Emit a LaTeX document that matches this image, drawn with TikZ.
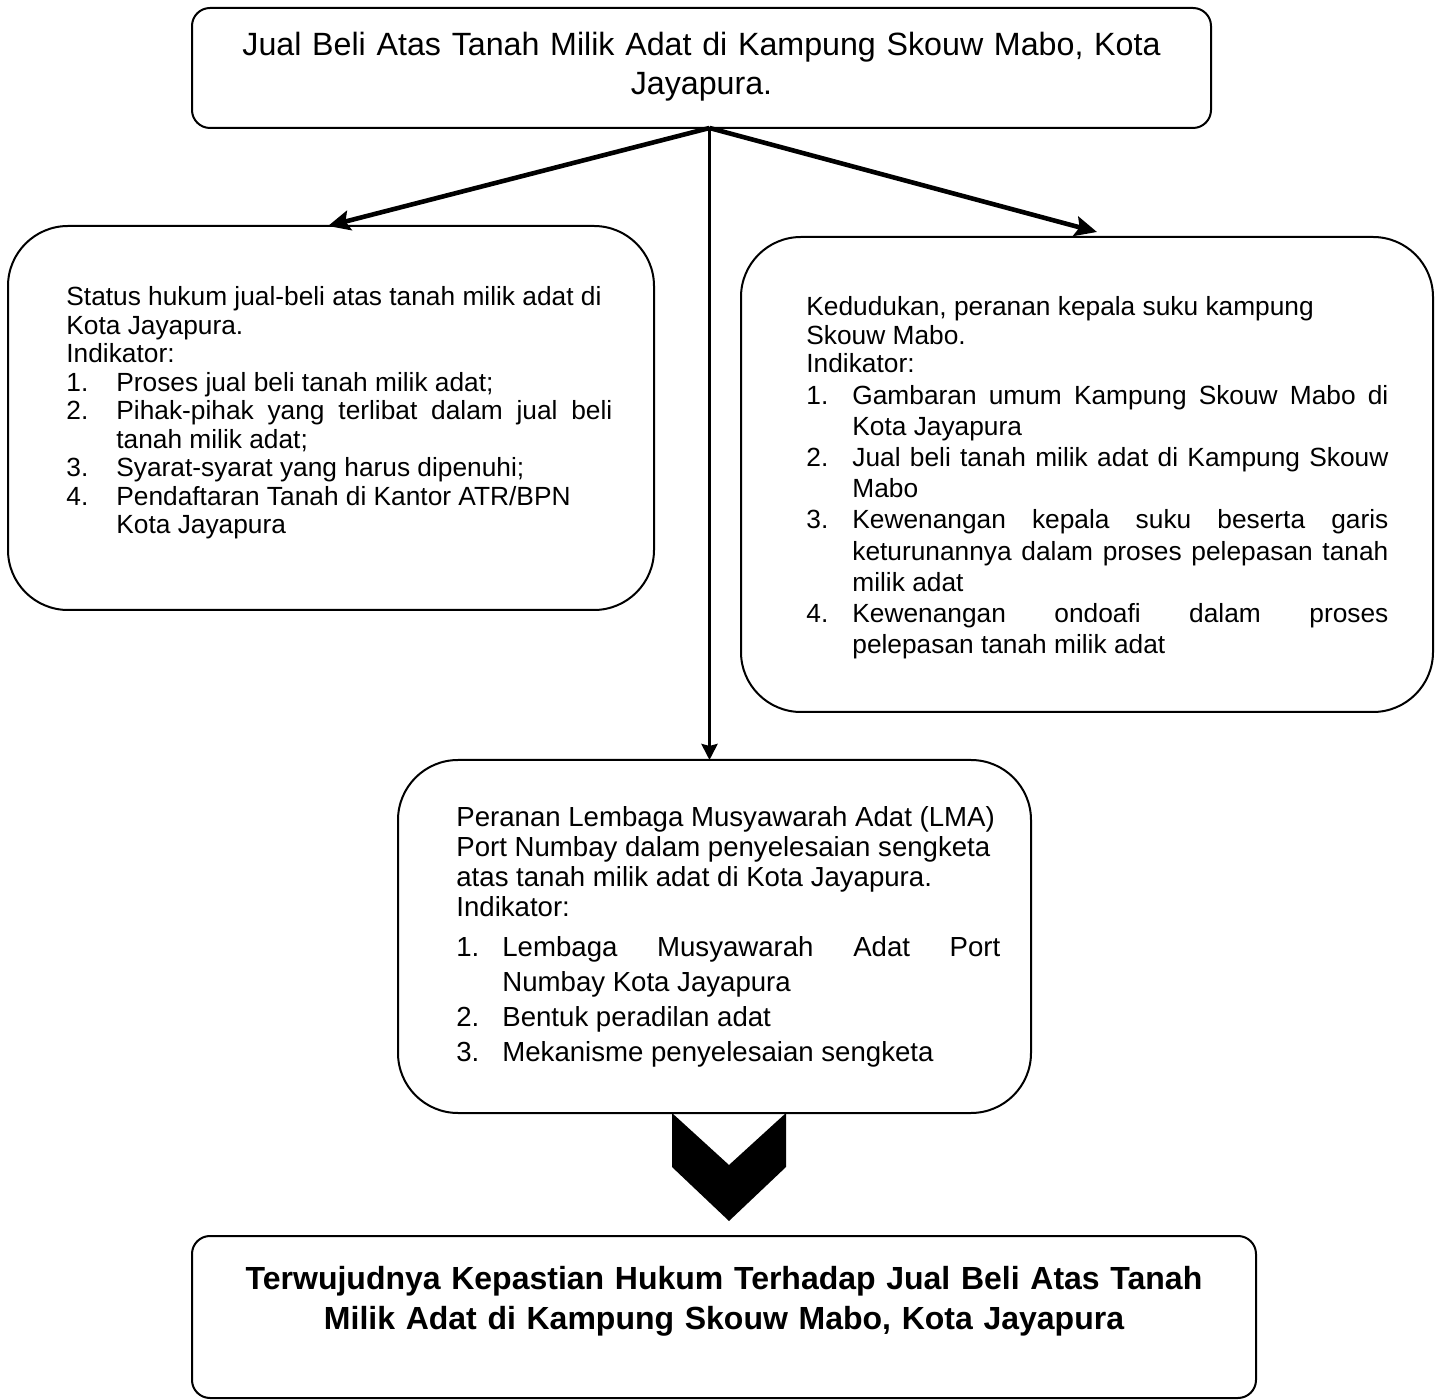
\documentclass[tikz,border=0pt]{standalone}
\usepackage{fontspec}
\setmainfont{Liberation Sans}
\usetikzlibrary{arrows.meta, calc}

\newcommand{\itm}[2][25pt]{\par\hangindent=#1\hangafter=1\noindent\makebox[#1][l]{#2}}

\tikzset{
  box/.style={draw, line width=1pt, rounded corners=30pt, inner sep=0pt, outer sep=0pt},
  hdr/.style={box, rounded corners=9pt},
  txt/.style={anchor=base west, inner sep=0pt, align=justify,
    execute at begin node={\parindent=0pt\parskip=0pt\hyphenpenalty=10000\tolerance=9999}},
  body/.style={font=\fontsize{13.15}{14.25}\selectfont},
  arr/.style={-{Stealth[length=11pt, width=10pt, inset=2pt]}, line width=2.3pt},
  varr/.style={-{Stealth[length=8pt, width=8pt, inset=1pt]}, line width=1.7pt},
}

\begin{document}
\begin{tikzpicture}[x=0.5pt, y=-0.5pt]
\useasboundingbox (0, 0) rectangle (1436, 1400);

% boxes
\node[hdr, minimum width=509.5pt, minimum height=60pt] (top) at (701.5, 68) {};
\node[box, minimum width=323pt, minimum height=192pt] (lbox) at (331, 418) {};
\node[box, minimum width=346pt, minimum height=237.5pt] (rbox) at (1087, 474.5) {};
\node[box, minimum width=316.5pt, minimum height=176.5pt] (mbox) at (714.5, 936.5) {};
\node[hdr, minimum width=532pt, minimum height=81pt] (bot) at (724, 1317) {};

% texts
\node[txt, anchor=base, text width=500pt, align=center,
  font=\fontsize{16.1}{19.5}\selectfont] (toptxt) at (701.5, 56)
  {Jual Beli Atas Tanah Milik Adat di Kampung Skouw Mabo, Kota\\ Jayapura.};

\node[txt, body, text width=273pt] (ltxt) at (66, 306) {%
Status hukum jual-beli atas tanah milik adat di\\ Kota Jayapura.\\ Indikator:
\itm{1.}Proses jual beli tanah milik adat;
\itm{2.}Pihak-pihak yang terlibat dalam jual beli\linebreak tanah milik adat;
\itm{3.}Syarat-syarat yang harus dipenuhi;
\itm{4.}Pendaftaran Tanah di Kantor ATR/BPN\\ Kota Jayapura\par};

\node[txt, body, text width=291pt] (rtxt) at (806, 316) {%
Kedudukan, peranan kepala suku kampung\\ Skouw Mabo.\\ Indikator:\par
\fontsize{13.15}{15.6}\selectfont
\itm[23pt]{1.}Gambaran umum Kampung Skouw Mabo di\linebreak Kota Jayapura
\itm[23pt]{2.}Jual beli tanah milik adat di Kampung Skouw\linebreak Mabo
\itm[23pt]{3.}Kewenangan kepala suku beserta garis\linebreak keturunannya dalam proses pelepasan tanah\linebreak milik adat
\itm[23pt]{4.}Kewenangan ondoafi dalam proses\linebreak pelepasan tanah milik adat\par};

\node[txt, text width=272pt, font=\fontsize{13.8}{15}\selectfont] (mtxt) at (456, 827) {%
Peranan Lembaga Musyawarah Adat (LMA)\\ Port Numbay dalam penyelesaian sengketa\\ atas tanah milik adat di Kota Jayapura.\\ Indikator:\par
\fontsize{13.8}{17.5}\selectfont\vspace{2.5pt}
\itm[23pt]{1.}Lembaga Musyawarah Adat Port\linebreak Numbay Kota Jayapura
\itm[23pt]{2.}Bentuk peradilan adat
\itm[23pt]{3.}Mekanisme penyelesaian sengketa\par};

\node[txt, anchor=base, text width=520pt, align=center,
  font=\fontsize{16}{20}\selectfont\bfseries] (bottxt) at (724, 1289)
  {Terwujudnya Kepastian Hukum Terhadap Jual Beli Atas Tanah\\ Milik Adat di Kampung Skouw Mabo, Kota Jayapura};

% arrows
\draw[arr] ([xshift=4pt]top.south) -- ([xshift=-1.5pt]lbox.north);
\draw[arr] ([xshift=4pt]top.south) -- ([xshift=5pt, yshift=2.5pt]rbox.north);
\draw[varr] ([xshift=4pt]top.south) -- ([xshift=4pt]top.south |- mbox.north);

% chevron
\fill (672, 1113) -- (672, 1167) -- (729, 1221) -- (786, 1167) -- (786, 1113) -- (729, 1165) -- cycle;
\end{tikzpicture}
\end{document}
